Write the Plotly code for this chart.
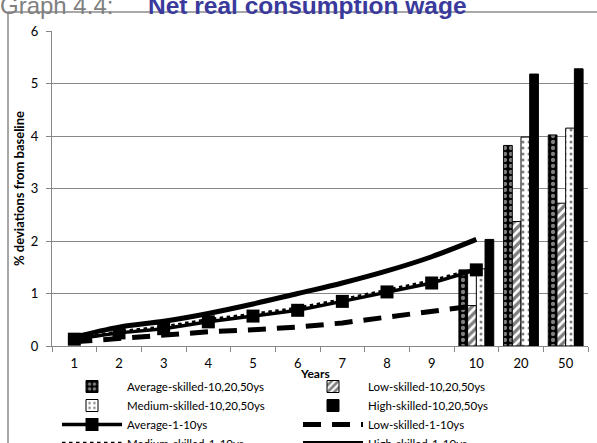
import plotly.graph_objects as go

categories = ["1", "2", "3", "4", "5", "6", "7", "8", "9", "10", "20", "50"]
bar_cats = ["10", "20", "50"]
line_cats = ["1", "2", "3", "4", "5", "6", "7", "8", "9", "10"]

avg_bars = [1.45, 3.82, 4.02]
low_bars = [0.77, 2.37, 2.72]
med_bars = [1.47, 3.98, 4.15]
high_bars = [2.03, 5.18, 5.28]

avg_line = [0.13, 0.25, 0.33, 0.46, 0.57, 0.68, 0.85, 1.03, 1.20, 1.45]
low_line = [0.08, 0.15, 0.21, 0.27, 0.31, 0.36, 0.44, 0.55, 0.64, 0.77]
med_line = [0.13, 0.27, 0.36, 0.50, 0.60, 0.72, 0.88, 1.06, 1.24, 1.47]
high_line = [0.17, 0.36, 0.47, 0.62, 0.80, 1.00, 1.20, 1.43, 1.70, 2.03]

W, H = 597, 443
ML, MR, MT, MB = 52, 9, 31, 97
PW = W - ML - MR
PH = H - MT - MB

def px(x):
    return (x - ML) / PW

def py(y):
    return (H - MB - y) / PH

FONT = "Lato, Open Sans, sans-serif"
GRID = "#878787"

fig = go.Figure()

fig.add_trace(go.Bar(
    x=bar_cats, y=avg_bars, name="Average-skilled-10,20,50ys",
    marker=dict(color="black", line=dict(color="black", width=1),
                pattern=dict(shape=".", fgcolor="white", bgcolor="black",
                             size=6, solidity=0.4))))
fig.add_trace(go.Bar(
    x=bar_cats, y=low_bars, name="Low-skilled-10,20,50ys",
    marker=dict(color="white", line=dict(color="black", width=1),
                pattern=dict(shape="/", fgcolor="black", bgcolor="white",
                             size=6, solidity=0.55))))
fig.add_trace(go.Bar(
    x=bar_cats, y=med_bars, name="Medium-skilled-10,20,50ys",
    marker=dict(color="white", line=dict(color="black", width=1),
                pattern=dict(shape=".", fgcolor="black", bgcolor="white",
                             size=6, solidity=0.2))))
fig.add_trace(go.Bar(
    x=bar_cats, y=high_bars, name="High-skilled-10,20,50ys",
    marker=dict(color="black", line=dict(color="black", width=1))))

fig.add_trace(go.Scatter(
    x=line_cats, y=avg_line, name="Average-1-10ys", mode="lines+markers",
    line=dict(color="black", width=3.5),
    marker=dict(symbol="square", size=13, color="black")))
fig.add_trace(go.Scatter(
    x=line_cats, y=low_line, name="Low-skilled-1-10ys", mode="lines",
    line=dict(color="black", width=5, dash="18px,11px")))
fig.add_trace(go.Scatter(
    x=line_cats, y=med_line, name="Medium-skilled-1-10ys", mode="lines",
    line=dict(color="black", width=3.5, dash="dot")))
fig.add_trace(go.Scatter(
    x=line_cats, y=high_line, name="High-skilled-1-10ys", mode="lines",
    line=dict(color="black", width=5, shape="spline")))

fig.update_layout(
    width=W, height=H,
    margin=dict(l=ML, r=MR, t=MT, b=MB, autoexpand=False),
    paper_bgcolor="white", plot_bgcolor="white",
    barmode="group", bargap=0.22, bargroupgap=0,
    font=dict(family=FONT, size=12, color="black"),
    showlegend=True,
    legend=dict(orientation="h", x=px(57), y=py(372), xanchor="left",
                yanchor="top", entrywidth=166, entrywidthmode="pixels",
                itemwidth=60, font=dict(family=FONT, size=11.5),
                bgcolor="rgba(0,0,0,0)", tracegroupgap=0),
    xaxis=dict(type="category", categoryorder="array", categoryarray=categories,
               range=[-0.5, 11.5], showgrid=False, showline=True,
               linecolor=GRID, linewidth=1, ticks="outside",
               tickson="boundaries", ticklen=5, tickcolor=GRID,
               ticklabelstandoff=5,
               tickfont=dict(size=13, family=FONT), fixedrange=True),
    yaxis=dict(range=[0, 6], dtick=1, showgrid=True, gridcolor=GRID,
               gridwidth=1, showline=True, linecolor=GRID, linewidth=1,
               ticks="outside", ticklen=5, tickcolor=GRID,
               ticklabelstandoff=5,
               tickfont=dict(size=13, family=FONT), zeroline=False,
               fixedrange=True),
    shapes=[dict(type="rect", xref="paper", yref="paper",
                 x0=px(8), x1=px(W + 10), y0=py(H + 10), y1=py(12),
                 line=dict(color="#8c8c8c", width=1.5), layer="below")],
    annotations=[
        dict(text="Graph 4.4:", xref="paper", yref="paper", x=px(-2), y=py(21),
             xanchor="left", yanchor="bottom", showarrow=False,
             font=dict(family="Liberation Sans, Arial", size=24, color="#7f7f7f")),
        dict(text="<b>Net real consumption wage</b>", xref="paper", yref="paper",
             x=px(146), y=py(21), xanchor="left", yanchor="bottom", showarrow=False,
             font=dict(family="Liberation Sans, Arial", size=24.5, color="#3a3a9c")),
        dict(text="<b>% deviations from baseline</b>", xref="paper", yref="paper",
             x=px(19), y=py(189), xanchor="center", yanchor="middle",
             textangle=-90, showarrow=False,
             font=dict(family=FONT, size=13, color="black")),
        dict(text="<b>Years</b>", xref="paper", yref="paper", x=px(315), y=py(373),
             xanchor="center", yanchor="middle", showarrow=False,
             font=dict(family=FONT, size=12, color="black")),
    ],
)

fig.write_html("out.html", config={"displayModeBar": False},
               post_script="document.body.style.margin='0';")
